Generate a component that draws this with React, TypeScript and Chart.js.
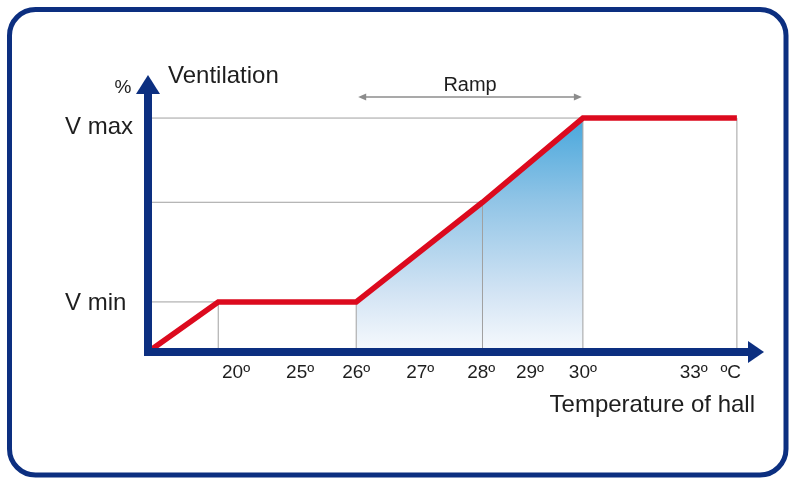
import React, { useEffect, useRef } from "react";
import { Chart, registerables } from "chart.js";

Chart.register(...registerables);

// ---- data (diagram units: x 0..100 along the temperature axis, y 0..100 = V max) ----
const breakX = [0, 11.4, 33.8, 54.3, 70.6, 95.6];
const ventilation = [0, 21.4, 21.4, 64, 100, 100];
const rampFrom = 2; // 26º
const rampTo = 4; // 30º
const tickLabels = ["20º", "25º", "26º", "27º", "28º", "29º", "30º", "33º", "ºC"];
const tickX = [14.3, 24.7, 33.8, 44.2, 54.1, 62.0, 70.6, 88.6, 94.6];
const levelNames = ["V min", "V max"];
const levelValues = [21.4, 100];
const guideH = [1, 3, 4]; // breakpoints with a horizontal guide to the y axis
const guideV = [1, 2, 3, 4, 5]; // breakpoints with a vertical guide to the x axis
const X_MAX = 100;
const Y_MAX = 118.4;

const NAVY = "#0c2f80";
const RED = "#dc0a1e";
const GRID = "#a0a0a0";
const TEXT = "#1e1e1e";
const FONT = "'Liberation Sans', Arial, Helvetica, sans-serif";

const diagramPlugin = {
  id: "diagram",
  beforeDraw(chart: any) {
    const ctx = chart.ctx;
    ctx.save();
    ctx.fillStyle = "#ffffff";
    ctx.fillRect(0, 0, chart.width, chart.height);
    ctx.strokeStyle = NAVY;
    ctx.lineWidth = 5;
    ctx.beginPath();
    (ctx as any).roundRect(9.5, 9.5, 776.5, 465.5, 26);
    ctx.stroke();
    ctx.restore();
  },
  afterDatasetsDraw(chart: any) {
    const ctx = chart.ctx;
    const xs = chart.scales.x;
    const ys = chart.scales.y;
    const ox = xs.getPixelForValue(0);
    const oy = ys.getPixelForValue(0);
    const top = ys.getPixelForValue(Y_MAX);
    const right = xs.getPixelForValue(X_MAX);
    ctx.save();

    // axes with arrows
    ctx.fillStyle = NAVY;
    ctx.fillRect(ox - 4, top + 19, 8, oy + 4 - (top + 19));
    ctx.beginPath();
    ctx.moveTo(ox - 12, top + 19);
    ctx.lineTo(ox + 12, top + 19);
    ctx.lineTo(ox, top);
    ctx.closePath();
    ctx.fill();
    ctx.fillRect(ox - 4, oy - 4, right - 16 - (ox - 4), 8);
    ctx.beginPath();
    ctx.moveTo(right - 16, oy - 11);
    ctx.lineTo(right - 16, oy + 11);
    ctx.lineTo(right, oy);
    ctx.closePath();
    ctx.fill();

    // ramp double arrow
    const ay = 97;
    const ax1 = xs.getPixelForValue(breakX[rampFrom]) + 2;
    const ax2 = xs.getPixelForValue(breakX[rampTo]) - 1;
    ctx.strokeStyle = "#8c8c8c";
    ctx.fillStyle = "#8c8c8c";
    ctx.lineWidth = 1.3;
    ctx.beginPath();
    ctx.moveTo(ax1 + 4, ay);
    ctx.lineTo(ax2 - 4, ay);
    ctx.stroke();
    ctx.beginPath();
    ctx.moveTo(ax1, ay);
    ctx.lineTo(ax1 + 8, ay - 3.5);
    ctx.lineTo(ax1 + 8, ay + 3.5);
    ctx.closePath();
    ctx.fill();
    ctx.beginPath();
    ctx.moveTo(ax2, ay);
    ctx.lineTo(ax2 - 8, ay - 3.5);
    ctx.lineTo(ax2 - 8, ay + 3.5);
    ctx.closePath();
    ctx.fill();

    // texts
    ctx.fillStyle = TEXT;
    ctx.textBaseline = "alphabetic";
    ctx.font = `20px ${FONT}`;
    ctx.textAlign = "center";
    ctx.fillText("Ramp", (ax1 + ax2) / 2, 91);

    ctx.font = `24px ${FONT}`;
    ctx.textAlign = "left";
    ctx.fillText("Ventilation", ox + 20, 83);

    ctx.font = `19px ${FONT}`;
    ctx.textAlign = "center";
    ctx.fillText("%", ox - 25, 93);

    const levelShift = [8, 16];
    ctx.font = `24px ${FONT}`;
    ctx.textAlign = "left";
    levelNames.forEach((name, i) => {
      ctx.fillText(name, 65, ys.getPixelForValue(levelValues[i]) + levelShift[i]);
    });

    ctx.font = `19px ${FONT}`;
    ctx.textAlign = "center";
    tickLabels.forEach((lab, i) => {
      ctx.fillText(lab, xs.getPixelForValue(tickX[i]), oy + 26);
    });

    ctx.font = `24px ${FONT}`;
    ctx.textAlign = "right";
    ctx.fillText("Temperature of hall", right - 9, oy + 60);

    ctx.restore();
  },
};

export default function App() {
  const ref = useRef<HTMLCanvasElement | null>(null);

  useEffect(() => {
    if (!ref.current) return;
    const linePoints = breakX.map((x, i) => ({ x, y: ventilation[i] }));
    const rampPoints = breakX
      .slice(rampFrom, rampTo + 1)
      .map((x, i) => ({ x, y: ventilation[rampFrom + i] }));

    const guideSets: any[] = [];
    guideH.forEach((i) => {
      guideSets.push({
        data: [
          { x: 0, y: ventilation[i] },
          { x: breakX[i], y: ventilation[i] },
        ],
        borderColor: GRID,
        borderWidth: 1,
        pointRadius: 0,
        fill: false,
        order: 1,
      });
    });
    guideV.forEach((i) => {
      guideSets.push({
        data: [
          { x: breakX[i], y: 0 },
          { x: breakX[i], y: ventilation[i] },
        ],
        borderColor: GRID,
        borderWidth: 1,
        pointRadius: 0,
        fill: false,
        order: 1,
      });
    });

    const chart = new Chart(ref.current, {
      type: "line",
      data: {
        datasets: [
          {
            data: linePoints,
            borderColor: RED,
            borderWidth: 5.5,
            pointRadius: 0,
            fill: false,
            tension: 0,
            borderJoinStyle: "miter",
            order: 0,
          } as any,
          ...guideSets,
          {
            data: rampPoints,
            borderWidth: 0,
            borderColor: "rgba(0,0,0,0)",
            pointRadius: 0,
            fill: "origin",
            order: 2,
            backgroundColor: (c: any) => {
              const ch = c.chart;
              const area = ch.chartArea;
              if (!area) return "#9cc8e8";
              const ys = ch.scales.y;
              const g = ch.ctx.createLinearGradient(
                0,
                ys.getPixelForValue(100),
                0,
                ys.getPixelForValue(0)
              );
              g.addColorStop(0, "#48a7dc");
              g.addColorStop(0.35, "#90c4e6");
              g.addColorStop(0.75, "#d3e4f4");
              g.addColorStop(1, "#f7fafd");
              return g;
            },
          } as any,
        ],
      },
      options: {
        animation: false,
        responsive: true,
        maintainAspectRatio: false,
        layout: { padding: { left: 148, right: 25, top: 75, bottom: 128 } },
        plugins: {
          legend: { display: false },
          tooltip: { enabled: false },
          title: { display: false },
        },
        scales: {
          x: { type: "linear", min: 0, max: X_MAX, display: false },
          y: { type: "linear", min: 0, max: Y_MAX, display: false },
        },
      },
      plugins: [diagramPlugin],
    });
    return () => chart.destroy();
  }, []);

  return (
    <div style={{ position: "absolute", left: 0, top: 0, width: 789, height: 480 }}>
      <canvas ref={ref} />
    </div>
  );
}
